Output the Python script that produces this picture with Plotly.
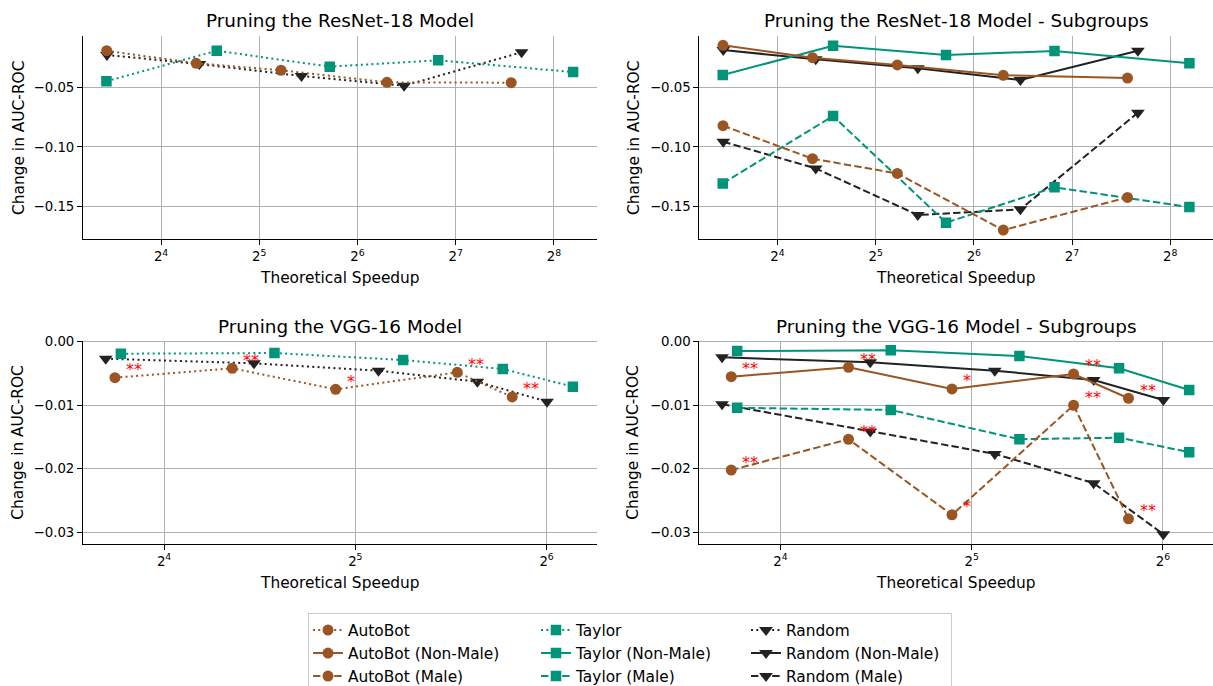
import math
import plotly.graph_objects as go

# ---------------- data ----------------
# ResNet-18: theoretical speedup per method
resnet_speedup_autobot = [10.9, 20.5, 37.3, 78.8, 189.3]
resnet_speedup_taylor = [10.88, 23.7, 52.6, 113.1, 293.0]
resnet_speedup_random = [10.92, 20.97, 43.1, 88.9, 203.7]

resnet_autobot = [-0.0197, -0.0302, -0.0360, -0.0461, -0.0464]
resnet_taylor = [-0.0452, -0.0197, -0.0330, -0.0277, -0.0375]
resnet_random = [-0.0233, -0.0308, -0.0408, -0.0489, -0.0210]

resnet_autobot_nonmale = [-0.0152, -0.0255, -0.0316, -0.0402, -0.0425]
resnet_taylor_nonmale = [-0.0400, -0.0155, -0.0233, -0.0199, -0.0302]
resnet_random_nonmale = [-0.0191, -0.0269, -0.0344, -0.0442, -0.0197]
resnet_autobot_male = [-0.0823, -0.1099, -0.1222, -0.1695, -0.1422]
resnet_taylor_male = [-0.1305, -0.0742, -0.1633, -0.1338, -0.1503]
resnet_random_male = [-0.0957, -0.1180, -0.1569, -0.1522, -0.0715]

# VGG-16: theoretical speedup per method
vgg_speedup_autobot = [13.39, 20.48, 29.8, 46.3, 56.5]
vgg_speedup_taylor = [13.68, 23.87, 38.05, 54.6, 70.4]
vgg_speedup_random = [12.95, 22.16, 34.8, 49.8, 64.1]

vgg_autobot = [-0.00566, -0.00419, -0.00749, -0.00482, -0.00869]
vgg_taylor = [-0.00189, -0.00178, -0.00288, -0.00429, -0.00708]
vgg_random = [-0.00267, -0.00340, -0.00456, -0.00629, -0.00943]

vgg_autobot_nonmale = [-0.00550, -0.00403, -0.00744, -0.00508, -0.00890]
vgg_taylor_nonmale = [-0.00146, -0.00136, -0.00225, -0.00419, -0.00760]
vgg_random_nonmale = [-0.00245, -0.00325, -0.00456, -0.00602, -0.00917]
vgg_autobot_male = [-0.02020, -0.01535, -0.02725, -0.01000, -0.02788]
vgg_taylor_male = [-0.01040, -0.01074, -0.01535, -0.01510, -0.01739]
vgg_random_male = [-0.00984, -0.01415, -0.01766, -0.02227, -0.03029]

vgg_significance = ["**", "**", "*", "**", "**"]

x_tickvals = [16, 32, 64, 128, 256]
x_ticktext = ["2<sup>4</sup>", "2<sup>5</sup>", "2<sup>6</sup>", "2<sup>7</sup>", "2<sup>8</sup>"]
resnet_yticks = [-0.15, -0.10, -0.05]
vgg_yticks = [-0.03, -0.02, -0.01, 0.0]

titles = ["Pruning the ResNet-18 Model", "Pruning the ResNet-18 Model - Subgroups",
          "Pruning the VGG-16 Model", "Pruning the VGG-16 Model - Subgroups"]

# ---------------- style ----------------
BROWN = "#9B5523"
TEAL = "#009478"
BLACK = "#222222"
DOT = "2px,3.3px"
DASH = "7.4px,3.2px"
FONT = "DejaVu Sans"

style = {
    "AutoBot": dict(color=BROWN, symbol="circle", size=11, rank=1),
    "Taylor": dict(color=TEAL, symbol="square", size=10.5, rank=4),
    "Random": dict(color=BLACK, symbol="triangle-down", size=12, rank=7),
}
legend_widths = {"AutoBot": 183, "Taylor": 165, "Random": 160}

fig = go.Figure()
shown = set()


def add(method, variant, xs, ys, xa, ya):
    st = style[method]
    name = method if variant == "" else f"{method} ({variant})"
    dash = {"": DOT, "Non-Male": "solid", "Male": DASH}[variant]
    rank = st["rank"] + {"": 0, "Non-Male": 1, "Male": 2}[variant]
    fig.add_trace(go.Scatter(
        x=xs, y=ys, mode="lines+markers", name=name,
        line=dict(color=st["color"], width=2, dash=dash),
        marker=dict(symbol=st["symbol"], size=st["size"], color=st["color"], line=dict(width=0)),
        xaxis=xa, yaxis=ya, legendgroup=method, legendrank=rank,
        legendwidth=legend_widths[method],
        showlegend=name not in shown,
    ))
    shown.add(name)


# top-left
add("Random", "", resnet_speedup_random, resnet_random, "x", "y")
add("Taylor", "", resnet_speedup_taylor, resnet_taylor, "x", "y")
add("AutoBot", "", resnet_speedup_autobot, resnet_autobot, "x", "y")
# top-right
add("Random", "Non-Male", resnet_speedup_random, resnet_random_nonmale, "x2", "y2")
add("Random", "Male", resnet_speedup_random, resnet_random_male, "x2", "y2")
add("Taylor", "Non-Male", resnet_speedup_taylor, resnet_taylor_nonmale, "x2", "y2")
add("Taylor", "Male", resnet_speedup_taylor, resnet_taylor_male, "x2", "y2")
add("AutoBot", "Non-Male", resnet_speedup_autobot, resnet_autobot_nonmale, "x2", "y2")
add("AutoBot", "Male", resnet_speedup_autobot, resnet_autobot_male, "x2", "y2")
# bottom-left
add("Random", "", vgg_speedup_random, vgg_random, "x3", "y3")
add("Taylor", "", vgg_speedup_taylor, vgg_taylor, "x3", "y3")
add("AutoBot", "", vgg_speedup_autobot, vgg_autobot, "x3", "y3")
# bottom-right
add("Random", "Non-Male", vgg_speedup_random, vgg_random_nonmale, "x4", "y4")
add("Random", "Male", vgg_speedup_random, vgg_random_male, "x4", "y4")
add("Taylor", "Non-Male", vgg_speedup_taylor, vgg_taylor_nonmale, "x4", "y4")
add("Taylor", "Male", vgg_speedup_taylor, vgg_taylor_male, "x4", "y4")
add("AutoBot", "Non-Male", vgg_speedup_autobot, vgg_autobot_nonmale, "x4", "y4")
add("AutoBot", "Male", vgg_speedup_autobot, vgg_autobot_male, "x4", "y4")

annotations = []
# significance stars
for xa, ya, ys in [("x3", "y3", vgg_autobot), ("x4", "y4", vgg_autobot_nonmale),
                   ("x4", "y4", vgg_autobot_male)]:
    for s, v, lab in zip(vgg_speedup_autobot, ys, vgg_significance):
        annotations.append(dict(x=math.log10(s), y=v, xref=xa, yref=ya, text=lab,
                                showarrow=False, xanchor="left", yanchor="middle",
                                xshift=9, yshift=8,
                                font=dict(color="red", size=16, family=FONT)))

# layout geometry
L, R, T, B = 83, 0, 36, 142
W, H = 1213, 686
pw, ph = W - L - R, H - T - B
left_dom = [0, (596.7 - L) / pw]
right_dom = [(699.3 - L) / pw, 1]
top_dom = [(544 - 239.3) / ph, 1]
bot_dom = [0, (544 - 340.7) / ph]


def px_x(p):
    return (p - L) / pw


def px_y(p):
    return (544 - p) / ph


for i, t in enumerate(titles):
    cx = px_x((82.7 + 596.7) / 2) if i % 2 == 0 else px_x((699.3 + 1213.3) / 2)
    cy = px_y(20.7) if i < 2 else px_y(326)
    annotations.append(dict(x=cx, y=cy, xref="paper", yref="paper", text=t, showarrow=False,
                            xanchor="center", yanchor="middle",
                            font=dict(size=18.4, color="black", family=FONT)))
    # x title
    xy = px_y(278.3) if i < 2 else px_y(582.7)
    annotations.append(dict(x=cx, y=xy, xref="paper", yref="paper", text="Theoretical Speedup",
                            showarrow=False, xanchor="center", yanchor="middle",
                            font=dict(size=15.4, color="black", family=FONT)))
    # y title
    yx = px_x(18.3) if i % 2 == 0 else px_x(633.3)
    yy = px_y((36 + 239.3) / 2) if i < 2 else px_y((340.7 + 544) / 2)
    annotations.append(dict(x=yx, y=yy, xref="paper", yref="paper", text="Change in AUC-ROC",
                            showarrow=False, xanchor="center", yanchor="middle", textangle=-90,
                            font=dict(size=15.4, color="black", family=FONT)))

LOG2 = math.log10(2)
common_x = dict(type="log", tickvals=x_tickvals, ticktext=x_ticktext, showgrid=True,
                gridcolor="#b0b0b0", gridwidth=1, showline=True, linecolor="black",
                linewidth=1, ticks="outside", ticklen=5, tickwidth=1, tickcolor="black",
                tickfont=dict(size=13.3, color="black", family=FONT), zeroline=False,
                automargin=False)
common_y = dict(showgrid=True, gridcolor="#b0b0b0", gridwidth=1, showline=True,
                linecolor="black", linewidth=1, ticks="outside", ticklen=5, tickwidth=1,
                tickcolor="black", tickformat=".2f", zeroline=False, automargin=False,
                tickfont=dict(size=13.3, color="black", family=FONT))

top_xrange = [3.205 * LOG2, 8.435 * LOG2]
bot_xrange = [3.576 * LOG2, 6.262 * LOG2]
top_yrange = [-0.1772, -0.0074]
bot_yrange = [-0.03184, 0.00016]

fig.update_layout(
    width=W, height=H,
    margin=dict(l=L, r=R, t=T, b=B, autoexpand=False),
    paper_bgcolor="white", plot_bgcolor="white",
    font=dict(family=FONT, color="black"),
    xaxis=dict(common_x, domain=left_dom, anchor="y", range=top_xrange),
    yaxis=dict(common_y, domain=top_dom, anchor="x", range=top_yrange, tickvals=resnet_yticks),
    xaxis2=dict(common_x, domain=right_dom, anchor="y2", range=top_xrange),
    yaxis2=dict(common_y, domain=top_dom, anchor="x2", range=top_yrange, tickvals=resnet_yticks),
    xaxis3=dict(common_x, domain=left_dom, anchor="y3", range=bot_xrange),
    yaxis3=dict(common_y, domain=bot_dom, anchor="x3", range=bot_yrange, tickvals=vgg_yticks),
    xaxis4=dict(common_x, domain=right_dom, anchor="y4", range=bot_xrange),
    yaxis4=dict(common_y, domain=bot_dom, anchor="x4", range=bot_yrange, tickvals=vgg_yticks),
    annotations=annotations,
    showlegend=True,
    legend=dict(orientation="h", traceorder="grouped", x=px_x(308), y=px_y(612.5),
                xanchor="left", yanchor="top", bgcolor="white", bordercolor="#cccccc",
                borderwidth=1, font=dict(size=15.4, color="black", family=FONT),
                tracegroupgap=0),
)

fig.write_html("out.html")
